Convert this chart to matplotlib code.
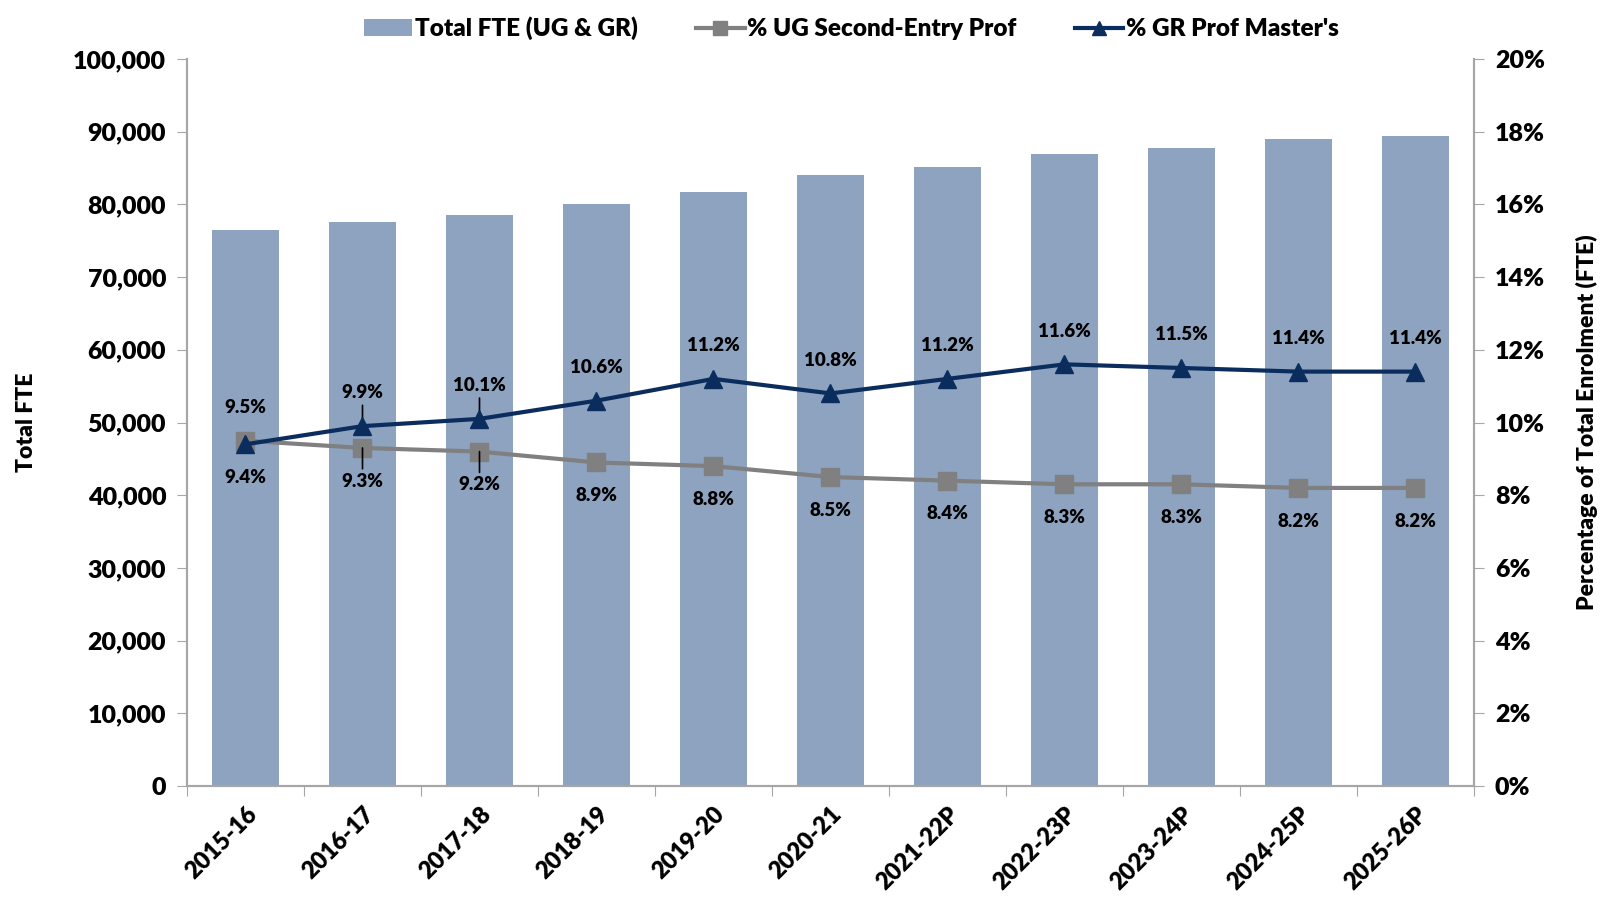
import matplotlib
matplotlib.use('Agg')
from matplotlib import pyplot as plt
from matplotlib.ticker import FuncFormatter, PercentFormatter
import numpy as np

plt.rcParams['font.family'] = ['Lato', 'DejaVu Sans']
plt.rcParams['font.weight'] = 800

# data
years = ['2015-16', '2016-17', '2017-18', '2018-19', '2019-20', '2020-21',
         '2021-22P', '2022-23P', '2023-24P', '2024-25P', '2025-26P']
total_fte = [76500, 77600, 78600, 80000, 81700, 84100, 85200, 86900, 87700, 89000, 89400]
ug_pct = [9.5, 9.3, 9.2, 8.9, 8.8, 8.5, 8.4, 8.3, 8.3, 8.2, 8.2]
gr_pct = [9.4, 9.9, 10.1, 10.6, 11.2, 10.8, 11.2, 11.6, 11.5, 11.4, 11.4]

bar_col = '#8DA3C0'
ug_col = '#808080'
gr_col = '#0B2D5E'
axis_col = '#A6A6A6'
W = 800

fig = plt.figure(figsize=(16.06, 8.98), dpi=100)
ax = fig.add_axes([187/1606, 1 - 786/898, (1474-187)/1606, (786-59)/898])
ax2 = ax.twinx()

x = np.arange(len(years))
bars = ax.bar(x, total_fte, width=0.57, color=bar_col, label='Total FTE (UG & GR)', zorder=1)
ax.set_ylim(0, 100000)
ax.set_xlim(-0.5, len(years) - 0.5)
ax.set_yticks(np.arange(0, 100001, 10000))
ax.yaxis.set_major_formatter(FuncFormatter(lambda v, p: f'{v:,.0f}'))

ax2.set_ylim(0, 20)
ax2.set_yticks(np.arange(0, 21, 2))
ax2.yaxis.set_major_formatter(PercentFormatter(decimals=0))

ug_line, = ax2.plot(x, ug_pct, color=ug_col, lw=3, marker='s', ms=13, label='% UG Second-Entry Prof', zorder=3)
gr_line, = ax2.plot(x, gr_pct, color=gr_col, lw=3, marker='^', ms=13, label="% GR Prof Master's", zorder=4)

# x ticks between categories, labels centred on bars
ax.set_xticks(np.arange(-0.5, len(years), 1))
ax.set_xticklabels([])
ax.set_xticks(x, minor=True)
ax.set_xticklabels(years, minor=True, rotation=45, ha='right', rotation_mode='anchor', fontsize=17, fontweight=W)
ax.tick_params(axis='x', which='minor', length=0, pad=12)
ax.tick_params(axis='x', which='major', length=7, color=axis_col)

for a in (ax, ax2):
    for s in a.spines.values():
        s.set_color(axis_col)
        s.set_linewidth(1.5)
    a.spines['top'].set_visible(False)
ax.tick_params(axis='y', labelsize=18, length=7, color=axis_col, pad=8)
ax2.tick_params(axis='y', labelsize=18, length=7, color=axis_col, pad=8)
for lab in ax.get_yticklabels() + ax2.get_yticklabels():
    lab.set_fontweight(W)

ax.set_ylabel('Total FTE', fontsize=16.5, fontweight=W, labelpad=26)
ax2.set_ylabel('Percentage of Total Enrolment (FTE)', fontsize=16.5, fontweight=W, labelpad=22)

# data labels
for i in range(len(years)):
    if i == 0:
        ug_off, gr_off = 24, -24
    else:
        ug_off, gr_off = -24, 24
    leader = i in (1, 2)
    for val, off in ((ug_pct[i], ug_off), (gr_pct[i], gr_off)):
        ax2.annotate(f'{val:.1f}%', (x[i], val), xytext=(0, off), textcoords='offset points',
                     ha='center', va='center', fontsize=13.5, fontweight=W, zorder=5)
        if leader:
            sign = 1 if off > 0 else -1
            ax2.annotate('', (x[i], val), xytext=(0, sign * 15), textcoords='offset points',
                         arrowprops=dict(arrowstyle='-', color='black', lw=1.2, shrinkA=0, shrinkB=0))

fig.legend(handles=[bars, ug_line, gr_line], loc='upper center', bbox_to_anchor=(0.53, 1.006),
           ncol=3, frameon=False, handlelength=2.0, handletextpad=0.1, columnspacing=2.4,
           markerscale=0.75, prop={'weight': W, 'size': 17.5})

fig.savefig('out.png', dpi=100)
